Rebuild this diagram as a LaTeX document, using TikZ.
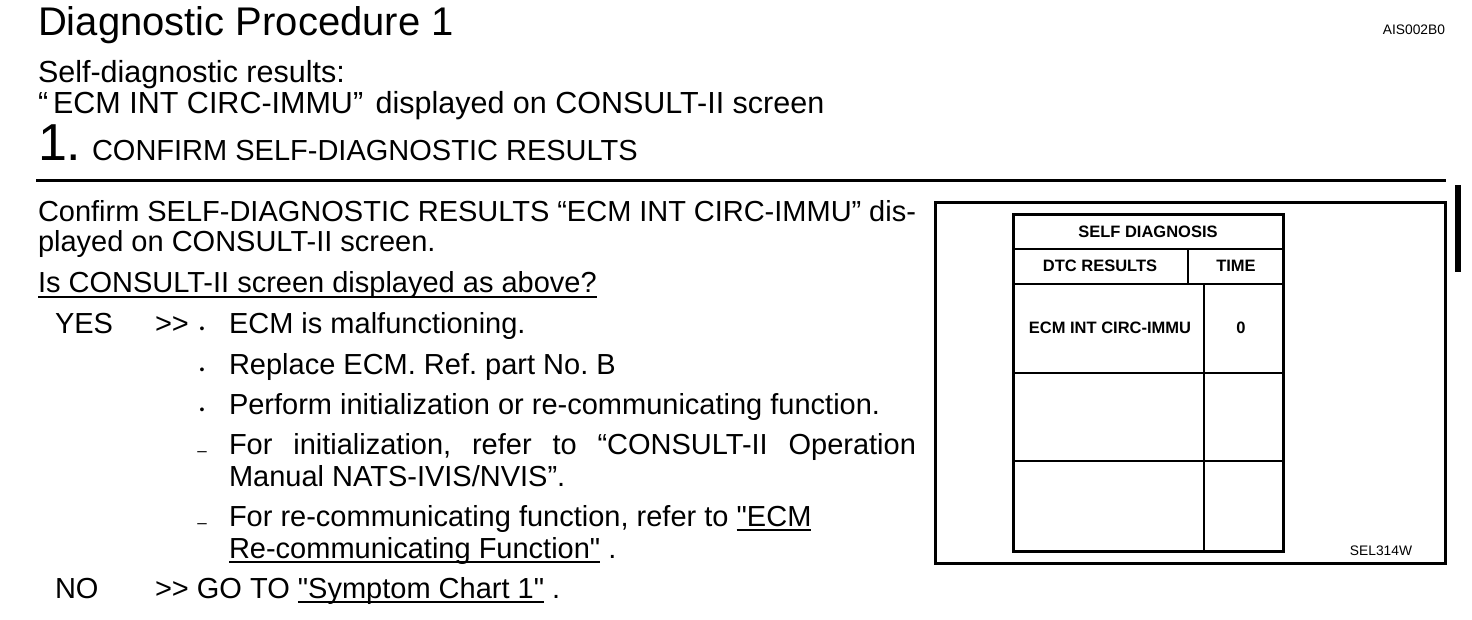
\documentclass[tikz,border=0pt]{standalone}
\usepackage{fontspec}
\newfontfamily\arialf{Liberation Sans}
\newcommand\myul[1]{\setbox0\hbox{#1}\rlap{\rule[-5pt]{\wd0}{1.8pt}}\box0\relax}
\frenchspacing
\begin{document}
\begin{tikzpicture}[x=1pt,y=-1pt,
  every node/.style={inner sep=0pt,outer sep=0pt},
  txt/.style={anchor=base west,font=\arialf\frenchspacing\fontsize{29}{34}\selectfont},
  ttl/.style={anchor=base west,font=\arialf\fontsize{40}{48}\selectfont},
  sub/.style={anchor=base west,font=\arialf\fontsize{30.5}{36}\selectfont},
  big/.style={anchor=base west,font=\arialf\fontsize{52}{60}\selectfont},
  bul/.style={anchor=base,font=\arialf\fontsize{14}{16}\selectfont},
  dsh/.style={anchor=base,font=\arialf\fontsize{17}{20}\selectfont},
  tbl/.style={anchor=base,font=\arialf\bfseries\fontsize{16.5}{20}\selectfont},
  tiny/.style={font=\arialf\fontsize{13.8}{16}\selectfont},
  thick3/.style={line width=3pt},
  thin2/.style={line width=2pt}]
\useasboundingbox (0,0) rectangle (1472,620);
\fill[white] (0,0) rectangle (1472,620);

% header
\node[ttl] (title) at (38,36) {Diagnostic Procedure 1};
\node[tiny,anchor=base east] (code) at (1445,35) {AIS002B0};
\node[sub] (s1) at (38,83) {Self-diagnostic results:};
\node[sub] (s2) at (38,114) {“\hspace{5pt}ECM INT CIRC-IMMU”\hspace{4pt} displayed on CONSULT-II screen};
\node[big] (one) at (38,161) {1.};
\node[txt] (conf) at (92,161) {CONFIRM SELF-DIAGNOSTIC RESULTS};
\draw[thick3] (36,181) -- (1446,181);
\fill (1455,185) rectangle (1461,272);

% body text
\node[txt] (p1) at (38,222) {\hbox to 878pt{Confirm SELF-DIAGNOSTIC RESULTS “ECM INT CIRC-IMMU” dis-}};
\node[txt] (p2) at (38,252) {played on CONSULT-II screen.};
\node[txt] (q) at (38,293) {\myul{Is CONSULT-II screen displayed as above?}};

\node[txt] (yes) at (55,334) {YES};
\node[txt] (yesarr) at (155,334) {>>};
\node[bul] (b1) at (202,334) {•};
\node[txt] (t1) at (229,334) {ECM is malfunctioning.};
\node[bul] (b2) at (202,374) {•};
\node[txt] (t2) at (229,374) {Replace ECM. Ref. part No. B};
\node[bul] (b3) at (202,414) {•};
\node[txt] (t3) at (229,414) {Perform initialization or re-communicating function.};
\node[dsh] (d1) at (202,456) {–};
\node[txt] (t4) at (229,454) {\hbox to 687pt{For\hfill initialization,\hfill refer\hfill to\hfill “CONSULT-II\hfill Operation}};
\node[txt] (t5) at (229,486) {Manual NATS-IVIS/NVIS”.};
\node[dsh] (d2) at (202,528) {–};
\node[txt] (t6) at (229,526) {For re-communicating function, refer to \myul{"ECM}};
\node[txt] (t7) at (229,558) {\myul{Re-communicating Function"} .};
\node[txt] (no) at (55,598) {NO};
\node[txt] (noarr) at (155,598) {>> GO TO \myul{"Symptom Chart 1"} .};

% screen panel
\draw[thick3] (935,203) rectangle (1445,563);
\draw[thick3] (1013,215) rectangle (1283,551);
\draw[thin2] (1013,249) -- (1283,249);
\draw[thin2] (1013,284) -- (1283,284);
\draw[thin2] (1013,373) -- (1283,373);
\draw[thin2] (1013,461) -- (1283,461);
\draw[thin2] (1188,249) -- (1188,284);
\draw[thin2] (1204,284) -- (1204,551);
\node[tbl] (h1) at (1148,238) {SELF DIAGNOSIS};
\node[tbl] (h2) at (1100,272) {DTC RESULTS};
\node[tbl] (h3) at (1236,272) {TIME};
\node[tbl] (r1) at (1110,334) {ECM INT CIRC-IMMU};
\node[tbl] (r2) at (1241,334) {0};
\node[tiny,anchor=base] (sel) at (1381,555) {SEL314W};
\end{tikzpicture}
\end{document}
